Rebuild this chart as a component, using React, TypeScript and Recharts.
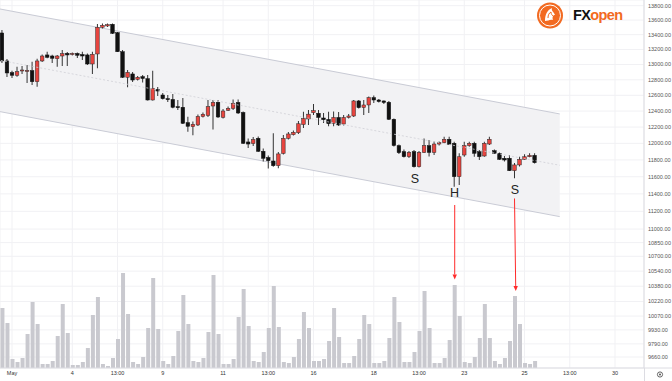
import React from 'react'
import {
  ComposedChart,
  Bar,
  Area,
  Line,
  XAxis,
  YAxis,
  CartesianGrid,
  ReferenceLine,
  ReferenceDot,
} from 'recharts'

// candles (4h bars)
const opens = [
  13423, 13047, 12893, 12859, 12915, 12909, 12919, 12775, 13047, 13127,
  13113, 13077, 13113, 13149, 13133, 13147, 13133, 13127, 13007, 13140,
  13501, 13519, 13542, 13427, 13170, 12833, 12876, 12806, 12841, 12814,
  12540, 12677, 12604, 12557, 12547, 12455, 12448, 12255, 12205, 12226,
  12332, 12345, 12464, 12511, 12322, 12410, 12433, 12509, 12382, 12017,
  11998, 12062, 11904, 11829, 11787, 11731, 11878, 12062, 12106, 12130,
  12232, 12301, 12380, 12372, 12313, 12295, 12247, 12320, 12238, 12320,
  12338, 12528, 12445, 12477, 12570, 12540, 12528, 12511, 12297, 11972,
  11899, 11839, 11899, 11719, 11890, 11972, 11890, 11992, 12008, 12050,
  12001, 11601, 11859, 11972, 12001, 11899, 11847, 11992, 11911, 11880,
  11820, 11820, 11672, 11740, 11807, 11838, 11855,
]
const highs = [
  13464, 13073, 12919, 12971, 12981, 12994, 13037, 13077, 13133, 13170,
  13131, 13127, 13193, 13166, 13160, 13160, 13170, 13147, 13170, 13546,
  13553, 13553, 13553, 13437, 13193, 12928, 12902, 12850, 12863, 12863,
  12919, 12707, 12630, 12604, 12617, 12540, 12566, 12330, 12270, 12357,
  12382, 12540, 12540, 12540, 12426, 12457, 12547, 12547, 12395, 12060,
  12078, 12084, 11938, 11853, 12124, 11896, 12103, 12140, 12158, 12276,
  12392, 12413, 12490, 12413, 12376, 12392, 12395, 12388, 12351, 12363,
  12540, 12540, 12540, 12585, 12597, 12553, 12534, 12528, 12307, 11986,
  11926, 11908, 11920, 11908, 12060, 12041, 12023, 12023, 12082, 12082,
  12021, 11880, 12021, 12021, 12021, 11920, 12021, 12082, 11926, 11890,
  11847, 11859, 11763, 11838, 11868, 11880, 11880,
]
const lows = [
  13020, 12837, 12823, 12841, 12876, 12759, 12733, 12711, 13033, 13083,
  13020, 12971, 12981, 12981, 13120, 13087, 13060, 12994, 12876, 12950,
  13485, 13505, 13410, 13166, 12823, 12703, 12771, 12791, 12765, 12534,
  12534, 12591, 12547, 12515, 12435, 12413, 12238, 12143, 12100, 12213,
  12320, 12326, 12170, 12313, 12307, 12401, 12413, 12363, 11992, 11944,
  11968, 11896, 11781, 11698, 11719, 11700, 11866, 12047, 12097, 12115,
  12189, 12226, 12351, 12226, 12251, 12209, 12211, 12213, 12220, 12307,
  12326, 12433, 12351, 12376, 12502, 12509, 12490, 12288, 11962, 11872,
  11829, 11823, 11710, 11710, 11884, 11841, 11860, 11974, 12001, 11980,
  11484, 11504, 11838, 11960, 11838, 11799, 11838, 11980, 11872, 11799,
  11781, 11668, 11582, 11722, 11799, 11831, 11757,
]
const closes = [
  13047, 12889, 12859, 12906, 12928, 12922, 12775, 13047, 13113, 13096,
  13083, 13113, 13144, 13127, 13147, 13123, 13113, 13007, 13136, 13501,
  13528, 13537, 13419, 13170, 12833, 12898, 12797, 12833, 12817, 12540,
  12690, 12655, 12557, 12544, 12448, 12443, 12247, 12210, 12235, 12332,
  12360, 12455, 12509, 12326, 12401, 12435, 12499, 12376, 12001, 11992,
  12047, 11904, 11820, 11791, 11731, 11872, 12062, 12115, 12136, 12241,
  12307, 12361, 12405, 12320, 12292, 12242, 12320, 12226, 12320, 12338,
  12528, 12443, 12477, 12570, 12540, 12521, 12509, 12297, 11974, 11887,
  11839, 11890, 11719, 11890, 11972, 11890, 11992, 12008, 12050, 11989,
  11601, 11838, 11972, 12001, 11880, 11839, 12001, 12050, 11880, 11807,
  11799, 11672, 11740, 11807, 11838, 11855, 11767,
]
const volumes = [
  600, 450, 90, 60, 100, 340, 660, 440, 40, 40,
  70, 320, 640, 350, 30, 30, 60, 200, 530, 710,
  40, 20, 100, 290, 950, 540, 60, 40, 110, 400,
  900, 390, 70, 40, 120, 370, 730, 440, 70, 60,
  100, 360, 930, 340, 40, 40, 90, 510, 790, 420,
  70, 60, 160, 400, 820, 410, 60, 50, 110, 290,
  560, 400, 70, 70, 90, 270, 600, 310, 50, 50,
  120, 290, 530, 440, 50, 50, 70, 300, 710, 460,
  60, 60, 160, 370, 770, 400, 50, 50, 100, 280,
  830, 520, 60, 50, 110, 300, 640, 300, 70, 40,
  100, 270, 720, 440, 50, 40, 70,
]

// descending channel: endpoints only
const channelSlots = [-1, 111]
const channelTop = [13762, 12364]
const channelBottom = [12400, 11140]
const channelMid = [13063, 11736]

// axis ticks
const xTickSlots = [2, 14, 23, 32, 44, 53, 62, 74, 83, 92, 104, 113, 122]
const xTickLabels = ['May', '4', '13:00', '9', '11', '13:00', '16', '18', '13:00', '23', '25', '13:00', '30']
const priceTicks = [
  13800, 13600, 13400, 13200, 13000, 12800, 12600, 12400, 12200, 12000, 11800, 11600,
  11400, 11200, 11000, 10850, 10700, 10540, 10380, 10220, 10070, 9930, 9790, 9660,
]

// head & shoulders marks and arrows
const markLabels = ['S', 'H', 'S']
const markSlots = [82.2, 90.06, 102.1]
const markPrices = [11580, 11410, 11451]
const arrowSlots = [[90.1, 90.1], [102.0, 102.25]]
const arrowPrices = [[11272, 10451], [11347, 10330]]

const X_DOMAIN: [number, number] = [-0.39, 127.77]
const RED = '#e8453f'
const font = '"Liberation Sans", Arial, sans-serif'

const rows: any[] = []
for (let i = -1; i <= 111; i++) {
  const row: any = { i }
  if (i >= 0 && i < opens.length) {
    const o = opens[i]
    const c = closes[i]
    row.wick = [lows[i], highs[i]]
    row.body = [Math.min(o, c), Math.max(o, c)]
    row.up = c >= o
    row.vol = volumes[i]
  }
  const k = channelSlots.indexOf(i)
  if (k >= 0) {
    row.band = [channelBottom[k], channelTop[k]]
    row.mid = channelMid[k]
  }
  rows.push(row)
}

// body drawn a bit wider than the bar slot, centred on it
const CandleBody = (props: any) => {
  const { x, y, width, height, payload } = props
  if (height == null || isNaN(height)) return null
  const cx = x + width / 2
  const w = 3.6
  const h = Math.max(height, 1)
  return (
    <rect
      x={cx - w / 2}
      y={y}
      width={w}
      height={h}
      fill={payload.up ? RED : '#111'}
      stroke={payload.up ? '#2a2a2a' : '#111'}
      strokeWidth={0.5}
    />
  )
}

const Arrow = (props: any) => {
  const { x1, y1, x2, y2 } = props
  const ang = Math.atan2(y2 - y1, x2 - x1)
  const len = 5
  const half = 2.2
  const bx = x2 - len * Math.cos(ang)
  const by = y2 - len * Math.sin(ang)
  const px = -Math.sin(ang) * half
  const py = Math.cos(ang) * half
  return (
    <g>
      <line x1={x1} y1={y1} x2={bx} y2={by} stroke="#ff2b2b" strokeWidth={1} />
      <polygon points={`${x2},${y2} ${bx + px},${by + py} ${bx - px},${by - py}`} fill="#ff2b2b" />
    </g>
  )
}

const Logo = () => (
  <div style={{ position: 'absolute', left: 536, top: 2, width: 100, height: 28, pointerEvents: 'none' }}>
    <svg width={28} height={28} style={{ position: 'absolute', left: 0, top: 0 }}>
      <circle cx={14} cy={13.5} r={13} fill="#f26a21" />
      <circle cx={14} cy={13.5} r={10.5} fill="none" stroke="#fff" strokeWidth={1} />
      <path d="M9 19 C9 13 11 8 16 6 C15 9 18 10 19 13 C17 13 16 15 17 18 C14 17 12 19 9 19 Z" fill="#fff" />
      <path d="M12 16 C12 13 13 11 15 10 C15 12 16 13 17 14" fill="none" stroke="#f26a21" strokeWidth={1} />
    </svg>
    <div style={{ position: 'absolute', left: 37, top: 5, fontFamily: font, fontWeight: 700, fontSize: 14.5, letterSpacing: -0.6, lineHeight: '16px' }}>
      <span style={{ color: '#111' }}>FX</span>
      <span style={{ color: '#f26a21' }}>open</span>
    </div>
  </div>
)

const App = () => {
  return (
    <div style={{ position: 'absolute', left: 0, top: 0, width: 672, height: 381, background: '#fff', overflow: 'hidden' }}>
      <ComposedChart width={672} height={381} data={rows} margin={{ top: 0, right: 0, left: 0, bottom: 0 }}>
        <CartesianGrid stroke="#f1f1f4" strokeWidth={1} />
        <XAxis
          dataKey="i"
          type="number"
          domain={X_DOMAIN}
          allowDataOverflow
          ticks={xTickSlots}
          interval={0}
          tickFormatter={(v: number) => xTickLabels[xTickSlots.indexOf(v)] ?? ''}
          tickLine={false}
          tickSize={0}
          tickMargin={3}
          axisLine={{ stroke: '#dcdce2' }}
          tick={{ fontSize: 5.5, fill: '#333', fontFamily: font }}
          height={13}
        />
        <XAxis xAxisId="w" dataKey="i" type="number" domain={X_DOMAIN} allowDataOverflow hide />
        <XAxis xAxisId="v" dataKey="i" type="number" domain={X_DOMAIN} allowDataOverflow hide />
        <YAxis
          orientation="right"
          type="number"
          scale="log"
          domain={[9553, 13880]}
          allowDataOverflow
          ticks={priceTicks}
          interval={0}
          tickFormatter={(v: number) => v.toFixed(2)}
          tickLine={false}
          tickSize={0}
          tickMargin={4}
          axisLine={{ stroke: '#dcdce2' }}
          tick={{ fontSize: 5.5, fill: '#555', fontFamily: font }}
          width={28}
        />
        <YAxis yAxisId="vol" type="number" domain={[0, 3680]} hide />

        <Area
          dataKey="band"
          type="linear"
          connectNulls
          fill="#f2f2f4"
          fillOpacity={1}
          stroke="#c9cbd5"
          strokeWidth={1}
          isAnimationActive={false}
          dot={false}
          activeDot={false}
        />
        <Line
          dataKey="mid"
          type="linear"
          connectNulls
          stroke="#cfcfd6"
          strokeWidth={0.8}
          strokeDasharray="2 2"
          dot={false}
          activeDot={false}
          isAnimationActive={false}
        />

        <Bar xAxisId="v" yAxisId="vol" dataKey="vol" barSize={4} fill="#c9c9cf" isAnimationActive={false} />

        <Bar xAxisId="w" dataKey="wick" barSize={1} fill="#333" isAnimationActive={false} />
        <Bar dataKey="body" barSize={3} shape={CandleBody} isAnimationActive={false} />

        {arrowSlots.map((s, k) => (
          <ReferenceLine
            key={'a' + k}
            segment={[
              { x: s[0], y: arrowPrices[k][0] },
              { x: s[1], y: arrowPrices[k][1] },
            ]}
            shape={Arrow}
          />
        ))}
        {markLabels.map((m, k) => (
          <ReferenceDot
            key={'m' + k}
            x={markSlots[k]}
            y={markPrices[k]}
            r={0}
            stroke="none"
            fill="none"
            label={{ value: m, position: 'center', fontSize: 12.5, fill: '#222', fontFamily: font }}
          />
        ))}
      </ComposedChart>

      <svg width={672} height={381} style={{ position: 'absolute', left: 0, top: 0, pointerEvents: 'none' }}>
        <line x1={644} y1={368} x2={672} y2={368} stroke="#dcdce2" strokeWidth={1} />
        <line x1={644.5} y1={368} x2={644.5} y2={381} stroke="#dcdce2" strokeWidth={1} />
        <circle cx={660} cy={374.5} r={2.6} fill="none" stroke="#555" strokeWidth={0.9} />
        <circle cx={660} cy={374.5} r={1} fill="#555" />
      </svg>
      <Logo />
    </div>
  )
}

export default App
